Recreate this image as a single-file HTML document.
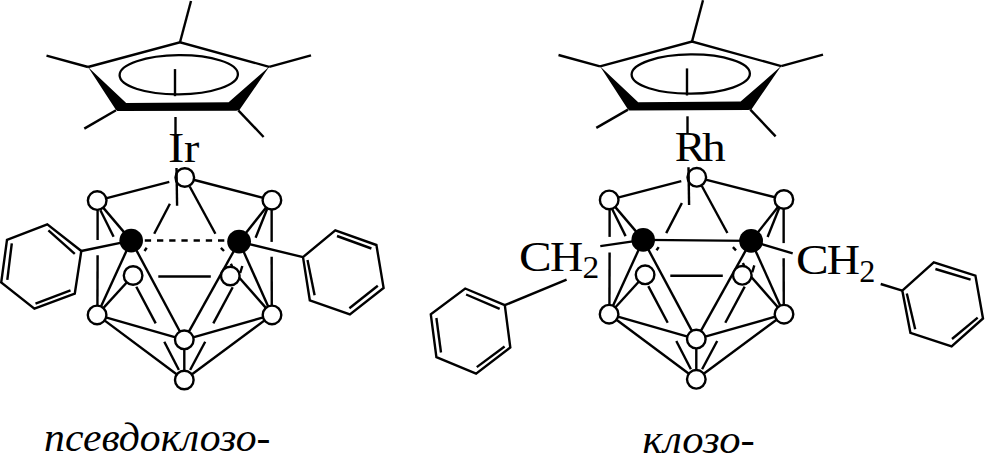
<!DOCTYPE html>
<html><head><meta charset="utf-8"><style>
html,body{margin:0;padding:0;background:#fff;width:985px;height:465px;overflow:hidden}
svg{display:block}
text{font-family:"Liberation Serif",serif;fill:#000;stroke:none}
</style></head><body>
<svg width="985" height="465" viewBox="0 0 985 465" stroke="#000" stroke-linecap="butt">
<polyline points="88.00,67.00 180.00,42.30 269.20,66.80" fill="none" stroke-width="2.4"/>
<polygon points="88.00,67.00 126.20,102.90 228.60,102.30 269.20,66.80 239.40,110.10 236.30,110.80 117.30,111.10 115.70,109.60" fill="#000" stroke="none"/>
<line x1="180.00" y1="42.30" x2="191.00" y2="1.00" stroke-width="2.4"/>
<line x1="88.00" y1="67.00" x2="46.50" y2="55.70" stroke-width="2.4"/>
<line x1="269.20" y1="66.80" x2="311.00" y2="55.40" stroke-width="2.4"/>
<line x1="116.00" y1="110.30" x2="84.30" y2="128.60" stroke-width="2.4"/>
<line x1="238.30" y1="110.30" x2="263.60" y2="137.00" stroke-width="2.4"/>
<ellipse cx="178.75" cy="74.75" rx="59.15" ry="19.6" fill="none" stroke-width="2.3" transform="rotate(-0.5 178.75 74.75)"/>
<line x1="175.00" y1="69.10" x2="175.00" y2="96.20" stroke-width="2.4"/>
<line x1="175.50" y1="117.00" x2="175.50" y2="134.00" stroke-width="2.4"/>
<text transform="translate(168.00,161.90) scale(0.4900,0.4250)" font-size="100">I</text>
<text transform="translate(183.90,161.90) scale(0.4600,0.4250)" font-size="100">r</text>
<line x1="169.90" y1="203.70" x2="154.20" y2="233.80" stroke-width="2.4"/>
<line x1="146.70" y1="247.80" x2="144.50" y2="251.00" stroke-width="2.4"/>
<line x1="100.40" y1="210.20" x2="113.60" y2="236.80" stroke-width="2.4"/>
<line x1="267.10" y1="209.00" x2="255.60" y2="237.70" stroke-width="2.4"/>
<line x1="242.30" y1="266.00" x2="240.20" y2="273.00" stroke-width="2.4"/>
<line x1="230.90" y1="263.80" x2="232.30" y2="266.80" stroke-width="2.4"/>
<line x1="189.70" y1="186.50" x2="215.40" y2="233.70" stroke-width="2.4"/>
<line x1="220.90" y1="247.80" x2="224.00" y2="251.00" stroke-width="2.4"/>
<line x1="158.30" y1="276.50" x2="210.80" y2="276.50" stroke-width="2.4"/>
<line x1="136.30" y1="286.80" x2="155.70" y2="323.40" stroke-width="2.4"/>
<line x1="232.70" y1="287.30" x2="213.30" y2="323.40" stroke-width="2.4"/>
<line x1="164.30" y1="341.70" x2="178.90" y2="370.00" stroke-width="2.4"/>
<line x1="205.20" y1="341.70" x2="190.10" y2="370.00" stroke-width="2.4"/>
<line x1="144.80" y1="240.50" x2="224.70" y2="240.50" stroke-width="2.4" stroke-dasharray="6.3 5.9"/>
<line x1="97.60" y1="200.60" x2="97.60" y2="240.00" stroke-width="2.4"/>
<line x1="97.60" y1="255.30" x2="97.40" y2="314.90" stroke-width="2.4"/>
<line x1="271.65" y1="200.20" x2="271.65" y2="241.90" stroke-width="2.4"/>
<line x1="271.65" y1="256.80" x2="271.80" y2="314.90" stroke-width="2.4"/>
<line x1="97.20" y1="200.60" x2="169.30" y2="181.80" stroke-width="2.4"/>
<line x1="184.80" y1="177.50" x2="271.90" y2="200.20" stroke-width="2.4"/>
<line x1="97.20" y1="200.60" x2="131.20" y2="240.60" stroke-width="2.4"/>
<line x1="239.10" y1="241.60" x2="271.90" y2="200.20" stroke-width="2.4"/>
<line x1="131.20" y1="240.60" x2="97.10" y2="314.90" stroke-width="2.4"/>
<line x1="131.20" y1="240.60" x2="184.30" y2="339.80" stroke-width="2.4"/>
<line x1="239.10" y1="241.60" x2="184.30" y2="339.80" stroke-width="2.4"/>
<line x1="239.10" y1="241.60" x2="272.00" y2="314.90" stroke-width="2.4"/>
<line x1="133.10" y1="275.50" x2="97.10" y2="314.90" stroke-width="2.4"/>
<line x1="236.50" y1="274.50" x2="272.00" y2="314.90" stroke-width="2.4"/>
<line x1="97.10" y1="314.90" x2="184.30" y2="339.80" stroke-width="2.4"/>
<line x1="272.00" y1="314.90" x2="184.30" y2="339.80" stroke-width="2.4"/>
<line x1="97.10" y1="314.90" x2="184.30" y2="380.00" stroke-width="2.4"/>
<line x1="272.00" y1="314.90" x2="184.30" y2="380.00" stroke-width="2.4"/>
<line x1="184.30" y1="339.80" x2="184.30" y2="380.00" stroke-width="2.4"/>
<circle cx="184.80" cy="177.50" r="9.3" fill="#fff" stroke-width="2.4"/>
<circle cx="97.20" cy="200.60" r="9.3" fill="#fff" stroke-width="2.4"/>
<circle cx="271.90" cy="200.20" r="9.3" fill="#fff" stroke-width="2.4"/>
<circle cx="133.10" cy="275.50" r="9.3" fill="#fff" stroke-width="2.4"/>
<circle cx="230.30" cy="276.00" r="9.3" fill="#fff" stroke-width="2.4"/>
<circle cx="97.10" cy="314.90" r="9.3" fill="#fff" stroke-width="2.4"/>
<circle cx="272.00" cy="314.90" r="9.3" fill="#fff" stroke-width="2.4"/>
<circle cx="184.30" cy="339.80" r="9.3" fill="#fff" stroke-width="2.4"/>
<circle cx="184.30" cy="380.00" r="9.3" fill="#fff" stroke-width="2.4"/>
<circle cx="131.20" cy="240.60" r="11.8" fill="#000" stroke-width="0"/>
<circle cx="239.10" cy="241.60" r="11.9" fill="#000" stroke-width="0"/>
<line x1="176.50" y1="168.00" x2="177.10" y2="205.70" stroke-width="2.4"/>
<line x1="131.20" y1="240.60" x2="81.30" y2="251.00" stroke-width="2.4"/>
<line x1="239.10" y1="241.60" x2="303.00" y2="257.10" stroke-width="2.4"/>
<polygon points="81.30,251.00 47.30,224.30 7.00,239.90 1.20,282.50 34.40,308.70 74.80,293.50" fill="none" stroke-width="2.4"/>
<line x1="48.40" y1="230.40" x2="74.80" y2="253.80" stroke-width="2.4"/>
<line x1="11.80" y1="243.30" x2="7.30" y2="279.80" stroke-width="2.4"/>
<line x1="35.50" y1="303.60" x2="70.50" y2="290.30" stroke-width="2.4"/>
<polygon points="303.00,257.10 335.30,230.30 376.40,245.00 383.60,287.90 349.90,314.50 309.80,300.30" fill="none" stroke-width="2.4"/>
<line x1="337.00" y1="236.00" x2="371.40" y2="248.50" stroke-width="2.4"/>
<line x1="307.50" y1="260.00" x2="314.60" y2="295.30" stroke-width="2.4"/>
<line x1="377.80" y1="285.80" x2="349.40" y2="308.20" stroke-width="2.4"/>
<text transform="translate(44.10,451.00) scale(0.4170,0.3900)" font-size="100" font-style="italic">псевдоклозо-</text>
<polyline points="600.00,66.30 692.00,41.60 781.20,66.10" fill="none" stroke-width="2.4"/>
<polygon points="600.00,66.30 638.20,102.20 740.60,101.60 781.20,66.10 751.40,109.40 748.30,110.10 629.30,110.40 627.70,108.90" fill="#000" stroke="none"/>
<line x1="692.00" y1="41.60" x2="703.00" y2="0.30" stroke-width="2.4"/>
<line x1="600.00" y1="66.30" x2="558.50" y2="55.00" stroke-width="2.4"/>
<line x1="781.20" y1="66.10" x2="823.00" y2="54.70" stroke-width="2.4"/>
<line x1="628.00" y1="109.60" x2="596.30" y2="127.90" stroke-width="2.4"/>
<line x1="750.30" y1="109.60" x2="775.60" y2="136.30" stroke-width="2.4"/>
<ellipse cx="690.75" cy="74.05" rx="59.15" ry="19.6" fill="none" stroke-width="2.3" transform="rotate(-0.5 690.75 74.05)"/>
<line x1="687.00" y1="68.40" x2="687.00" y2="95.50" stroke-width="2.4"/>
<line x1="687.50" y1="116.30" x2="687.50" y2="133.30" stroke-width="2.4"/>
<text transform="translate(674.70,160.60) scale(0.4600,0.4250)" font-size="100">R</text>
<text transform="translate(702.10,160.60) scale(0.4750,0.4100)" font-size="100">h</text>
<line x1="681.90" y1="203.00" x2="666.20" y2="233.10" stroke-width="2.4"/>
<line x1="658.70" y1="247.10" x2="656.50" y2="250.30" stroke-width="2.4"/>
<line x1="612.40" y1="209.50" x2="625.60" y2="236.10" stroke-width="2.4"/>
<line x1="779.10" y1="208.30" x2="767.60" y2="237.00" stroke-width="2.4"/>
<line x1="754.30" y1="265.30" x2="752.20" y2="272.30" stroke-width="2.4"/>
<line x1="742.90" y1="263.10" x2="744.30" y2="266.10" stroke-width="2.4"/>
<line x1="701.70" y1="185.80" x2="727.40" y2="233.00" stroke-width="2.4"/>
<line x1="732.90" y1="247.10" x2="736.00" y2="250.30" stroke-width="2.4"/>
<line x1="670.30" y1="275.80" x2="722.80" y2="275.80" stroke-width="2.4"/>
<line x1="648.30" y1="286.10" x2="667.70" y2="322.70" stroke-width="2.4"/>
<line x1="744.70" y1="286.60" x2="725.30" y2="322.70" stroke-width="2.4"/>
<line x1="676.30" y1="341.00" x2="690.90" y2="369.30" stroke-width="2.4"/>
<line x1="717.20" y1="341.00" x2="702.10" y2="369.30" stroke-width="2.4"/>
<line x1="643.20" y1="239.90" x2="751.10" y2="240.90" stroke-width="2.4"/>
<line x1="609.60" y1="199.90" x2="609.60" y2="236.90" stroke-width="2.4"/>
<line x1="609.60" y1="252.40" x2="609.40" y2="314.20" stroke-width="2.4"/>
<line x1="783.65" y1="199.50" x2="783.65" y2="243.10" stroke-width="2.4"/>
<line x1="783.65" y1="258.20" x2="783.80" y2="314.20" stroke-width="2.4"/>
<line x1="609.20" y1="199.90" x2="681.30" y2="181.10" stroke-width="2.4"/>
<line x1="696.80" y1="177.30" x2="783.90" y2="199.50" stroke-width="2.4"/>
<line x1="609.20" y1="199.90" x2="643.20" y2="239.90" stroke-width="2.4"/>
<line x1="751.10" y1="240.90" x2="783.90" y2="199.50" stroke-width="2.4"/>
<line x1="643.20" y1="239.90" x2="609.10" y2="314.20" stroke-width="2.4"/>
<line x1="643.20" y1="239.90" x2="696.30" y2="339.10" stroke-width="2.4"/>
<line x1="751.10" y1="240.90" x2="696.30" y2="339.10" stroke-width="2.4"/>
<line x1="751.10" y1="240.90" x2="784.00" y2="314.20" stroke-width="2.4"/>
<line x1="645.10" y1="274.80" x2="609.10" y2="314.20" stroke-width="2.4"/>
<line x1="748.50" y1="273.80" x2="784.00" y2="314.20" stroke-width="2.4"/>
<line x1="609.10" y1="314.20" x2="696.30" y2="339.10" stroke-width="2.4"/>
<line x1="784.00" y1="314.20" x2="696.30" y2="339.10" stroke-width="2.4"/>
<line x1="609.10" y1="314.20" x2="696.30" y2="379.30" stroke-width="2.4"/>
<line x1="784.00" y1="314.20" x2="696.30" y2="379.30" stroke-width="2.4"/>
<line x1="696.30" y1="339.10" x2="696.30" y2="379.30" stroke-width="2.4"/>
<circle cx="696.80" cy="177.30" r="9.3" fill="#fff" stroke-width="2.4"/>
<circle cx="609.20" cy="199.90" r="9.3" fill="#fff" stroke-width="2.4"/>
<circle cx="783.90" cy="199.50" r="9.3" fill="#fff" stroke-width="2.4"/>
<circle cx="645.10" cy="274.80" r="9.3" fill="#fff" stroke-width="2.4"/>
<circle cx="742.30" cy="275.30" r="9.3" fill="#fff" stroke-width="2.4"/>
<circle cx="609.10" cy="314.20" r="9.3" fill="#fff" stroke-width="2.4"/>
<circle cx="784.00" cy="314.20" r="9.3" fill="#fff" stroke-width="2.4"/>
<circle cx="696.30" cy="339.10" r="9.3" fill="#fff" stroke-width="2.4"/>
<circle cx="696.30" cy="379.30" r="9.3" fill="#fff" stroke-width="2.4"/>
<circle cx="643.20" cy="239.90" r="11.8" fill="#000" stroke-width="0"/>
<circle cx="751.10" cy="240.90" r="11.9" fill="#000" stroke-width="0"/>
<line x1="688.50" y1="167.30" x2="689.10" y2="205.00" stroke-width="2.4"/>
<line x1="643.20" y1="239.90" x2="600.30" y2="246.10" stroke-width="2.4"/>
<line x1="751.10" y1="240.90" x2="792.70" y2="253.40" stroke-width="2.4"/>
<text transform="translate(519.00,271.20) scale(0.4900,0.4180)" font-size="100">C</text>
<text transform="translate(549.90,271.20) scale(0.4600,0.4180)" font-size="100">H</text>
<text transform="translate(582.60,277.70) scale(0.3350,0.3180)" font-size="100">2</text>
<text transform="translate(796.00,273.60) scale(0.4900,0.4250)" font-size="100">C</text>
<text transform="translate(826.70,273.60) scale(0.4600,0.4250)" font-size="100">H</text>
<text transform="translate(859.20,281.80) scale(0.3220,0.3220)" font-size="100">2</text>
<line x1="566.60" y1="279.60" x2="504.80" y2="305.20" stroke-width="2.4"/>
<line x1="880.70" y1="284.00" x2="902.30" y2="290.60" stroke-width="2.4"/>
<polygon points="504.80,305.20 465.20,288.50 430.80,314.40 436.40,357.20 476.10,373.60 510.30,347.50" fill="none" stroke-width="2.4"/>
<line x1="466.10" y1="294.50" x2="499.70" y2="308.90" stroke-width="2.4"/>
<line x1="436.40" y1="318.00" x2="441.00" y2="352.50" stroke-width="2.4"/>
<line x1="476.80" y1="367.10" x2="504.60" y2="346.50" stroke-width="2.4"/>
<polygon points="902.30,290.60 933.80,262.40 975.40,275.60 983.00,318.50 951.60,346.50 910.40,332.80" fill="none" stroke-width="2.4"/>
<line x1="935.40" y1="269.00" x2="970.60" y2="279.60" stroke-width="2.4"/>
<line x1="906.80" y1="293.40" x2="915.20" y2="329.20" stroke-width="2.4"/>
<line x1="977.70" y1="317.60" x2="952.00" y2="339.00" stroke-width="2.4"/>
<text transform="translate(642.40,453.00) scale(0.4265,0.3920)" font-size="100" font-style="italic">клозо-</text>
</svg>
</body></html>
